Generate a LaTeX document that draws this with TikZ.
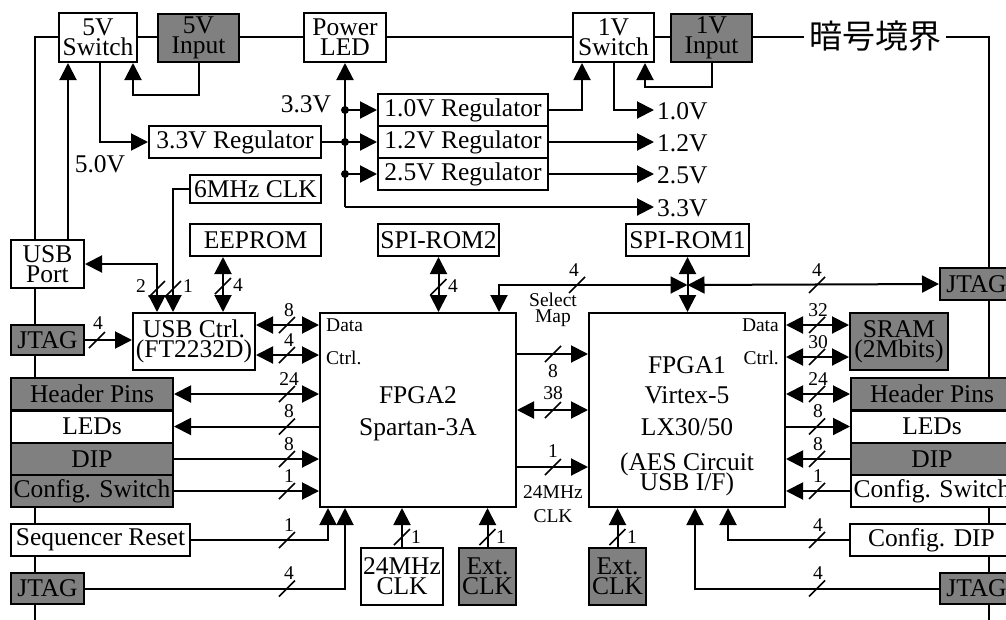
\documentclass[tikz,border=0pt]{standalone}
\usepackage{fontspec}
\setmainfont{Liberation Serif}
\newfontfamily\cjkfont{Noto Sans CJK JP}
\usetikzlibrary{arrows.meta,calc}
\definecolor{boxgray}{RGB}{128,128,128}
\newcommand\bigtxt{\fontsize{25.5pt}{20pt}\selectfont}
\newcommand\smtxt{\fontsize{19.5pt}{20pt}\selectfont}
\begin{document}
\begin{tikzpicture}[x=1pt,y=-1pt,
  lw/.style={line width=2pt},
  box/.style={draw,line width=2pt,fill=white,inner sep=0pt,align=center,font=\bigtxt},
  gbox/.style={box,fill=boxgray},
  arr/.style={line width=2pt,-{Triangle[length=17pt,width=17pt]}},
  dblarr/.style={line width=2pt,{Triangle[length=17pt,width=17pt]}-{Triangle[length=17pt,width=17pt]}},
  bl/.style={font=\smtxt,inner sep=0pt},
  tx/.style={font=\bigtxt,inner sep=0pt},
  bus/.pic={\draw[line width=1.6pt] (-8,8) -- (8,-8);}
]
\useasboundingbox (0,0) rectangle (1006,619);
\clip (0,0) rectangle (1006,619);
% crypto boundary
\draw[lw] (35,640) -- (35,37) -- (989,37) -- (989,640);
\node[fill=white,inner xsep=5pt,inner ysep=0pt,font=\cjkfont\fontsize{33pt}{33pt}\selectfont] (bnd) at (875,36) {暗号境界};

% top row
\node[box,minimum width=78pt,minimum height=49pt] (sw5) at (98,37.5) {5V\\Switch};
\node[gbox,minimum width=81pt,minimum height=48pt] (in5) at (198.5,38) {5V\\Input};
\node[box,minimum width=82pt,minimum height=49pt] (pled) at (345,37.5) {Power\\LED};
\node[box,minimum width=81pt,minimum height=49pt] (sw1) at (613.5,37.5) {1V\\Switch};
\node[gbox,minimum width=81pt,minimum height=48pt] (in1) at (711.5,38) {1V\\Input};

% regulators
\node[box,minimum width=172pt,minimum height=32pt] (reg33) at (235,142) {3.3V Regulator};
\node[box,minimum width=170pt,minimum height=32pt] (reg10) at (463,110) {1.0V Regulator};
\node[box,minimum width=170pt,minimum height=32pt] (reg12) at (463,142) {1.2V Regulator};
\node[box,minimum width=170pt,minimum height=32pt] (reg25) at (463,174) {2.5V Regulator};

% left column
\node[box,minimum width=131pt,minimum height=28pt] (clk6) at (255.5,189) {6MHz CLK};
\node[box,minimum width=73pt,minimum height=48pt] (usbport) at (47.5,264) {USB\\Port};
\node[box,minimum width=131pt,minimum height=32pt] (eeprom) at (255.5,240) {EEPROM};
\node[gbox,minimum width=73pt,minimum height=30pt] (jtagl) at (47.5,340) {JTAG};
\node[box,minimum width=122pt,minimum height=57pt] (usbctrl) at (194,341.5) {USB Ctrl.\\(FT2232D)};
\node[gbox,minimum width=162pt,minimum height=32pt] (hpl) at (92,394) {Header Pins};
\node[box,minimum width=162pt,minimum height=32pt] (ledl) at (92,426.5) {LEDs};
\node[gbox,minimum width=162pt,minimum height=32pt] (dipl) at (92,459) {DIP};
\node[gbox,minimum width=162pt,minimum height=32pt] (cfgl) at (92,491) {Config. Switch};
\node[box,minimum width=179pt,minimum height=32pt] (seqr) at (100.5,540) {Sequencer Reset};
\node[gbox,minimum width=73pt,minimum height=31pt] (jtagbl) at (47.5,588.5) {JTAG};

% FPGAs
\node[box,minimum width=196pt,minimum height=194pt] (fpga2) at (418,410) {};
\node[box,minimum width=196pt,minimum height=194pt] (fpga1) at (687,410) {};
\node[box,minimum width=121pt,minimum height=32pt] (spirom2) at (438.5,240) {SPI-ROM2};
\node[box,minimum width=123pt,minimum height=32pt] (spirom1) at (687.5,240) {SPI-ROM1};
\node[box,minimum width=82pt,minimum height=57pt] (clk24) at (402,576.5) {24MHz\\CLK};
\node[gbox,minimum width=57pt,minimum height=57pt] (ext2) at (487.5,576.5) {Ext.\\CLK};
\node[gbox,minimum width=57pt,minimum height=57pt] (ext1) at (617.5,576.5) {Ext.\\CLK};

% right column
\node[gbox,minimum width=73pt,minimum height=32pt] (jtagr) at (976.5,284) {JTAG};
\node[gbox,minimum width=98pt,minimum height=57pt] (sram) at (899,341.5) {SRAM\\(2Mbits)};
\node[gbox,minimum width=162pt,minimum height=32pt] (hpr) at (932,394) {Header Pins};
\node[box,minimum width=162pt,minimum height=32pt] (ledr) at (932,426.5) {LEDs};
\node[gbox,minimum width=162pt,minimum height=32pt] (dipr) at (932,459) {DIP};
\node[box,minimum width=162pt,minimum height=32pt] (cfgr) at (932,491) {Config. Switch};
\node[box,minimum width=163pt,minimum height=32pt] (cfgdip) at (931.5,540) {Config. DIP};
\node[gbox,minimum width=73pt,minimum height=31pt] (jtagbr) at (976.5,588.5) {JTAG};

% FPGA texts
\node[tx,anchor=base] (f2a) at (418,403) {FPGA2};
\node[tx,anchor=base] (f2b) at (418,435) {Spartan-3A};
\node[tx,anchor=base] (f1a) at (687,373) {FPGA1};
\node[tx,anchor=base] (f1b) at (687,403) {Virtex-5};
\node[tx,anchor=base] (f1c) at (687,435) {LX30/50};
\node[tx,anchor=base] (f1d) at (687,470) {(AES Circuit};
\node[tx,anchor=base] (f1e) at (687,490) {USB I/F)};
\node[bl,anchor=base west] (d2) at (326,331) {Data};
\node[bl,anchor=base west] (c2) at (326,364) {Ctrl.};
\node[bl,anchor=base east] (d1) at (779,331) {Data};
\node[bl,anchor=base east] (c1) at (779,364) {Ctrl.};

% power connectors
\draw[arr] (usbport.north -| 68,0) -- (sw5.south -| 68,0);
\draw[arr] (in5.south) -- ++(0,32) -| (sw5.south -| 133,0);
\draw[arr] (sw5.south -| 100,0) |- (reg33.west);
\draw[lw] (reg33.east) -- (345,142);
\coordinate (jv) at (345,207);
\coordinate (o10) at (654,110);
\coordinate (o12) at (654,142);
\coordinate (o25) at (654,174);
\coordinate (o33) at (654,207);
\draw[arr] (jv) -- (pled.south);
\draw[arr] (jv) -- (o33);
\fill (345,110) circle (4pt) (345,142) circle (4pt) (345,174) circle (4pt);
\draw[arr] (345,110) -- (reg10.west);
\draw[arr] (345,142) -- (reg12.west);
\draw[arr] (345,174) -- (reg25.west);
\draw[arr] (reg10.east) -| (sw1.south -| 582,0);
\draw[arr] (sw1.south) |- (o10);
\draw[arr] (in1.south) -- ++(0,24) -| (sw1.south -| 645,0);
\draw[arr] (reg12.east) -- (o12);
\draw[arr] (reg25.east) -- (o25);
\node[tx,anchor=west] at (657,111) {1.0V};
\node[tx,anchor=west] at (657,143) {1.2V};
\node[tx,anchor=west] at (657,175) {2.5V};
\node[tx,anchor=west] at (657,208) {3.3V};
\node[tx,anchor=base] at (306,112) {3.3V};
\node[tx,anchor=base] at (100,172) {5.0V};

% USB controller
\draw[arr] (clk6.west) -| (usbctrl.north -| 173,0);
\draw[dblarr] (usbport.east) -| (usbctrl.north -| 157,0);
\draw[dblarr] (eeprom.south -| 223,0) -- (usbctrl.north -| 223,0);
\draw[arr] (jtagl.east) -- (usbctrl.west |- jtagl.east);
\pic at (157,289) {bus}; \node[bl] at (141,286) {2};
\pic at (173,289) {bus}; \node[bl] at (188,286) {1};
\pic at (223,286) {bus}; \node[bl] at (238,285) {4};
\pic at (97,340) {bus}; \node[bl] at (98,323) {4};

% into FPGA2
\draw[dblarr] (usbctrl.east |- 0,325) -- (fpga2.west |- 0,325);
\draw[dblarr] (usbctrl.east |- 0,355) -- (fpga2.west |- 0,355);
\draw[dblarr] (hpl.east) -- (fpga2.west |- hpl.east);
\draw[arr] (fpga2.west |- ledl.east) -- (ledl.east);
\draw[arr] (dipl.east) -- (fpga2.west |- dipl.east);
\draw[arr] (cfgl.east) -- (fpga2.west |- cfgl.east);
\draw[arr] (seqr.east) -| (fpga2.south -| 328,0);
\draw[arr] (jtagbl.east) -| (fpga2.south -| 345,0);
\foreach \y/\l in {325/8,355/4,394/24,426.5/8,459/8,491/1,540/1,588.5/4}{
  \pic at (287,\y) {bus};
  \node[bl] at (289,\y-15) {\l};
}

% bottom clocks
\draw[arr] (clk24.north) -- (fpga2.south -| clk24.north);
\draw[arr] (ext2.north) -- (fpga2.south -| ext2.north);
\draw[arr] (ext1.north) -- (fpga1.south -| ext1.north);
\pic at (402,537) {bus}; \node[bl] at (416,537) {1};
\pic at (487.5,537) {bus}; \node[bl] at (501,537) {1};
\pic at (617.5,537) {bus}; \node[bl] at (632,537) {1};

% SPI ROMs and select map
\draw[dblarr] (spirom2.south) -- (fpga2.north -| spirom2.south);
\pic at (438.5,287) {bus}; \node[bl] at (453,286) {4};
\coordinate (J) at (spirom1.south |- 0,285);
\draw[arr] (J) -- (spirom1.south);
\draw[arr] (J) -- (fpga1.north -| J);
\draw[dblarr] (fpga2.north -| 499,0) |- (J);
\draw[dblarr] (J) -- (jtagr.west);
\pic at (577,285) {bus}; \node[bl] at (574,270) {4};
\pic at (817,285) {bus}; \node[bl] at (817,270) {4};
\node[bl,anchor=base] at (553,306) {Select};
\node[bl,anchor=base] at (553,322) {Map};

% FPGA2 to FPGA1
\draw[arr] (fpga2.east |- 0,354) -- (fpga1.west |- 0,354);
\draw[dblarr] (fpga2.east |- 0,410) -- (fpga1.west |- 0,410);
\draw[arr] (fpga2.east |- 0,467) -- (fpga1.west |- 0,467);
\pic at (553,354) {bus}; \node[bl] at (553,371) {8};
\pic at (553,410) {bus}; \node[bl] at (553,393) {38};
\pic at (553,467) {bus}; \node[bl] at (553,451) {1};
\node[bl,anchor=base] at (553,498) {24MHz};
\node[bl,anchor=base] at (553,522) {CLK};

% FPGA1 right side
\draw[dblarr] (fpga1.east |- 0,325) -- (sram.west |- 0,325);
\draw[dblarr] (fpga1.east |- 0,357) -- (sram.west |- 0,357);
\draw[dblarr] (fpga1.east |- hpr.west) -- (hpr.west);
\draw[arr] (fpga1.east |- ledr.west) -- (ledr.west);
\draw[arr] (dipr.west) -- (fpga1.east |- dipr.west);
\draw[arr] (cfgr.west) -- (fpga1.east |- cfgr.west);
\draw[arr] (cfgdip.west) -| (fpga1.south -| 728,0);
\draw[arr] (jtagbr.west) -| (fpga1.south -| 695,0);
\foreach \y/\l in {325/32,357/30,394/24,426.5/8,459/8,491/1,540/4,588.5/4}{
  \pic at (817,\y) {bus};
  \node[bl] at (818,\y-15) {\l};
}
\end{tikzpicture}
\end{document}
